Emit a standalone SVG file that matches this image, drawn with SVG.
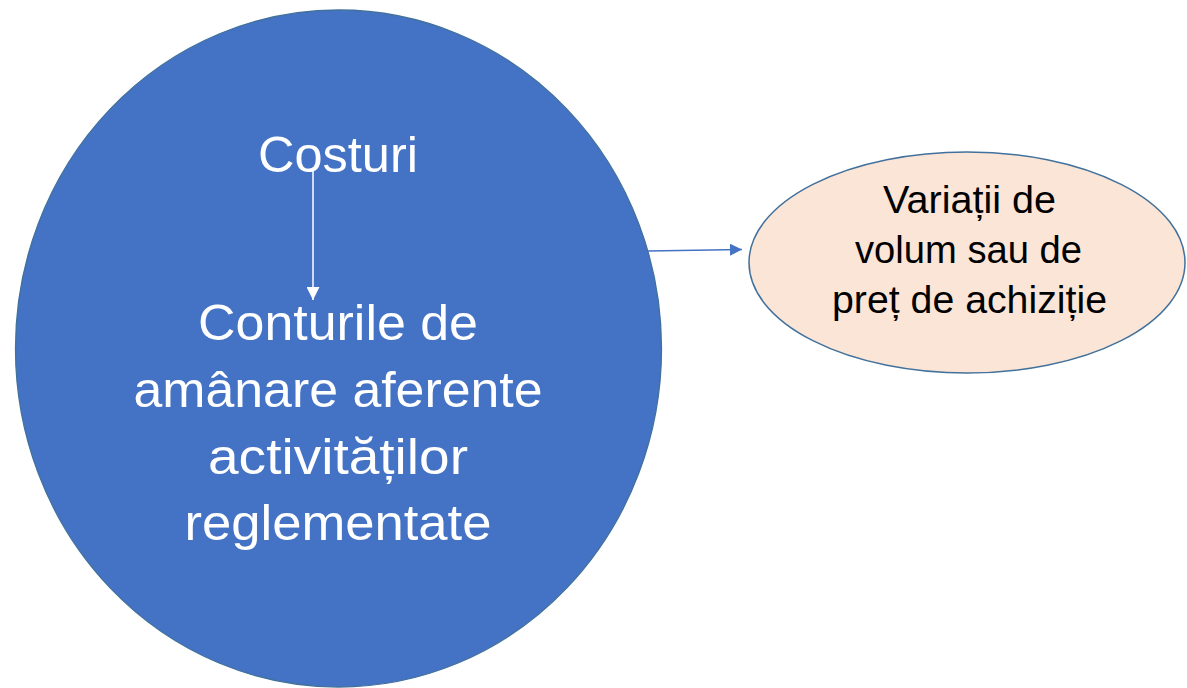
<svg xmlns="http://www.w3.org/2000/svg" width="1187" height="688" viewBox="0 0 1187 688">
<defs>
<style>
.big{fill:#4472C4;stroke:#41719C;stroke-width:1.3}
.small{fill:#FBE5D6;stroke:#41719C;stroke-width:1.5}
.wt{fill:#FFFFFF;font-family:"Liberation Sans",Arial,sans-serif;font-size:50px;text-anchor:middle}
.bt{fill:#000000;font-family:"Liberation Sans",Arial,sans-serif;font-size:38px;text-anchor:middle}
</style>
<marker id="aw" markerWidth="13" markerHeight="13" refX="10" refY="5" orient="auto" markerUnits="userSpaceOnUse" viewBox="0 0 10 10">
<path d="M0,0 L10,5 L0,10 Z" fill="#FFFFFF"/>
</marker>
<marker id="ab" markerWidth="12" markerHeight="12" refX="10" refY="5" orient="auto" markerUnits="userSpaceOnUse" viewBox="0 0 10 10">
<path d="M0,0 L10,5 L0,10 Z" fill="#4472C4"/>
</marker>
</defs>
<rect width="1187" height="688" fill="#FFFFFF"/>
<g id="node-costuri">
<ellipse class="big" cx="338.5" cy="348.5" rx="323" ry="338.5"/>
<text class="wt" x="338" y="172" textLength="160" lengthAdjust="spacingAndGlyphs">Costuri</text>
<text class="wt" x="338" y="340" textLength="280" lengthAdjust="spacingAndGlyphs">Conturile de</text>
<text class="wt" x="338" y="407" textLength="409" lengthAdjust="spacingAndGlyphs">amânare aferente</text>
<text class="wt" x="338" y="474" textLength="260" lengthAdjust="spacingAndGlyphs">activităților</text>
<text class="wt" x="338" y="540" textLength="307" lengthAdjust="spacingAndGlyphs">reglementate</text>
</g>
<g id="node-variatii">
<ellipse class="small" cx="967" cy="262.5" rx="218" ry="110.5"/>
<text class="bt" x="969.5" y="213" textLength="173" lengthAdjust="spacingAndGlyphs">Variații de</text>
<text class="bt" x="968.5" y="263" textLength="227" lengthAdjust="spacingAndGlyphs">volum sau de</text>
<text class="bt" x="969.5" y="313" textLength="275" lengthAdjust="spacingAndGlyphs">preț de achiziție</text>
</g>
<g id="connectors">
<line x1="313" y1="168" x2="313" y2="300" stroke="#FFFFFF" stroke-width="1.5" marker-end="url(#aw)"/>
<line x1="648" y1="251" x2="742" y2="249.5" stroke="#4472C4" stroke-width="1.5" marker-end="url(#ab)"/>
</g>
</svg>
